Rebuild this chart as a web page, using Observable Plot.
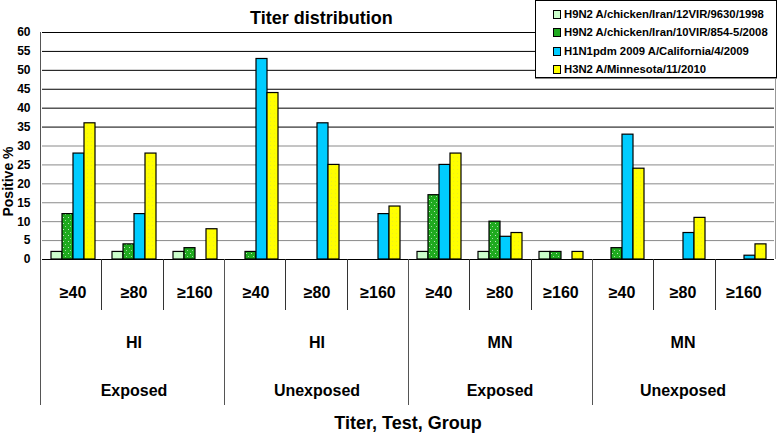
<!DOCTYPE html>
<html>
<head>
<meta charset="utf-8">
<script src="https://cdn.jsdelivr.net/npm/d3@7"></script>
<script src="https://cdn.jsdelivr.net/npm/@observablehq/plot@0.6"></script>
<style>
  body { margin: 0; background: #fff; }
  #wrap { position: relative; width: 777px; height: 436px; font-family: "Liberation Sans", Arial, sans-serif; }
  #title { position: absolute; left: 250px; top: 8px; font-size: 18px; font-weight: bold; white-space: nowrap; }
  #xtitle { position: absolute; left: 0; width: 816px; text-align: center; top: 413px; font-size: 18px; font-weight: bold; }
  #legend { position: absolute; left: 535px; top: 0px; width: 240px; height: 76px; background: #fff; border: 1px solid #000; box-shadow: 0 1px 0 #888; }
  .li { position: absolute; left: 17px; font-size: 11.3px; font-weight: bold; white-space: nowrap; line-height: 12px; }
  .sw { display: inline-block; width: 6px; height: 7px; border: 1px solid #000; margin-right: 3px; vertical-align: -1px; }
</style>
</head>
<body>
<div id="wrap">
  <div id="chart"></div>
  <div id="title">Titer distribution</div>
  <div id="xtitle">Titer, Test, Group</div>
  <div id="legend"></div>
</div>
<script>
// ---- data ----
const series = [
  "H9N2 A/chicken/Iran/12VIR/9630/1998",
  "H9N2 A/chicken/Iran/10VIR/854-5/2008",
  "H1N1pdm 2009 A/California/4/2009",
  "H3N2 A/Minnesota/11/2010"
];
const groups = ["Exposed", "Unexposed", "Exposed", "Unexposed"];
const tests = ["HI", "HI", "MN", "MN"];
const titers = ["≥40", "≥80", "≥160"];
// values per (block, titer): 12 categories in order
const h9n2_1998 = [2, 2, 2,   0, 0, 0,   2, 2, 2,   0, 0, 0];
const h9n2_2008 = [12, 4, 3,  2, 0, 0,   17, 10, 2, 3, 0, 0];
const h1n1_2009 = [28, 12, 0, 53, 36, 12, 25, 6, 0, 33, 7, 1];
const h3n2_2010 = [36, 28, 8, 44, 25, 14, 28, 7, 2, 24, 11, 4];
const yTicks = [0, 5, 10, 15, 20, 25, 30, 35, 40, 45, 50, 55, 60];

const seriesColors = ["#ccffcc", "url(#greendots)", "#00ccff", "url(#yellowdots)"];
const legendColors = ["#ccffcc", "#1faa1f", "#00ccff", "#ffff00"];

// ---- build tables ----
const cats = [];
groups.forEach((g, b) => titers.forEach((t, ti) => cats.push({key: `${b}-${ti}`, block: b, ti, titer: t, test: tests[b], group: g})));
const keys = cats.map(c => c.key);
const valueLists = [h9n2_1998, h9n2_2008, h1n1_2009, h3n2_2010];
const bars = [];
cats.forEach((c, i) => series.forEach((s, si) => {
  const v = valueLists[si][i];
  if (v > 0) bars.push({key: c.key, series: s, value: v});
}));
const mid = cats.filter(c => c.ti === 1);

const plot = Plot.plot({
  width: 777,
  height: 436,
  marginLeft: 40,
  marginRight: 1,
  marginTop: 32,
  marginBottom: 177,
  style: {fontFamily: "'Liberation Sans', Arial, sans-serif", fontSize: "12px", fontWeight: "bold", color: "#000", background: "transparent"},
  fx: {domain: keys, padding: 0, axis: null},
  x: {domain: series, paddingInner: 0, paddingOuter: 0.7, axis: null},
  y: {domain: [0, 60], ticks: yTicks, tickSize: 0, tickPadding: 12, label: null, tickFormat: d => d},
  color: {domain: series, range: seriesColors},
  marks: [
    Plot.ruleY(yTicks.filter(d => d > 0), {stroke: d => d >= 35 ? "#000" : "#8a8a8a", strokeWidth: 1, strokeOpacity: 1}),
    Plot.barY(bars, {fx: "key", x: "series", y: "value", fill: "series", stroke: "#000", strokeWidth: 1.2}),
    Plot.ruleY([0], {stroke: "#000", strokeWidth: 1}),
    Plot.text(cats, {fx: "key", text: "titer", frameAnchor: "bottom", dy: 38, fontSize: 16, fontWeight: "bold"}),
    Plot.text(mid, {fx: "key", text: "test", frameAnchor: "bottom", dy: 88, fontSize: 16, fontWeight: "bold"}),
    Plot.text(mid, {fx: "key", text: "group", frameAnchor: "bottom", dy: 136, fontSize: 16, fontWeight: "bold"})
  ]
});
document.getElementById("chart").appendChild(plot);

// ---- patterns & axis separators built from the plot's scales ----
const svg = d3.select(plot);
const defs = svg.insert("defs", ":first-child");
const gp = defs.append("pattern").attr("id", "greendots").attr("width", 5).attr("height", 6).attr("patternUnits", "userSpaceOnUse");
gp.append("rect").attr("width", 5).attr("height", 6).attr("fill", "#1faa1f");
gp.append("rect").attr("x", 1).attr("y", 1).attr("width", 1).attr("height", 1).attr("fill", "#bfe8bf");
gp.append("rect").attr("x", 3).attr("y", 4).attr("width", 1).attr("height", 1).attr("fill", "#9fdc9f");
const yp = defs.append("pattern").attr("id", "yellowdots").attr("width", 4).attr("height", 4).attr("patternUnits", "userSpaceOnUse");
yp.append("rect").attr("width", 4).attr("height", 4).attr("fill", "#ffff00");
yp.append("rect").attr("x", 1).attr("y", 1).attr("width", 1).attr("height", 1).attr("fill", "#eded20");

const fxs = plot.scale("fx");
const ys = plot.scale("y");
const band = d3.scaleBand().domain(fxs.domain).range(fxs.range).padding(0);
const yS = d3.scaleLinear().domain(ys.domain).range(ys.range);
const y0 = yS(0), yTop = yS(60);
const g = svg.append("g").attr("stroke-width", 1).attr("fill", "none");
keys.forEach((k, i) => {
  const x = Math.round(band(k)) + 0.5;
  const long = i % 3 === 0;
  g.append("line").attr("x1", x).attr("x2", x).attr("y1", y0).attr("y2", y0 + (long ? 146 : 51))
    .attr("stroke", long ? "#555" : "#333");
});
// left axis line
const xl = Math.round(band(keys[0])) + 0.5;
g.append("line").attr("x1", xl).attr("x2", xl).attr("y1", yTop).attr("y2", y0).attr("stroke", "#555");
// right frame edge
const xr = Math.round(band(keys[keys.length - 1]) + band.bandwidth()) - 0.5;
g.append("line").attr("x1", xr).attr("x2", xr).attr("y1", yTop).attr("y2", y0).attr("stroke", "#999");

// y label
svg.append("text").attr("transform", `translate(13,${(y0 + yTop) / 2 + 36}) rotate(-90)`)
  .attr("text-anchor", "middle").attr("font-size", 14).attr("font-weight", "bold").attr("fill", "#000")
  .text("Positive %");

// ---- legend ----
const leg = document.getElementById("legend");
series.forEach((s, i) => {
  const d = document.createElement("div");
  d.className = "li";
  d.style.top = (7 + i * 18.3) + "px";
  d.innerHTML = `<span class="sw" style="background:${legendColors[i]}"></span>` + s;
  leg.appendChild(d);
});
</script>
</body>
</html>
